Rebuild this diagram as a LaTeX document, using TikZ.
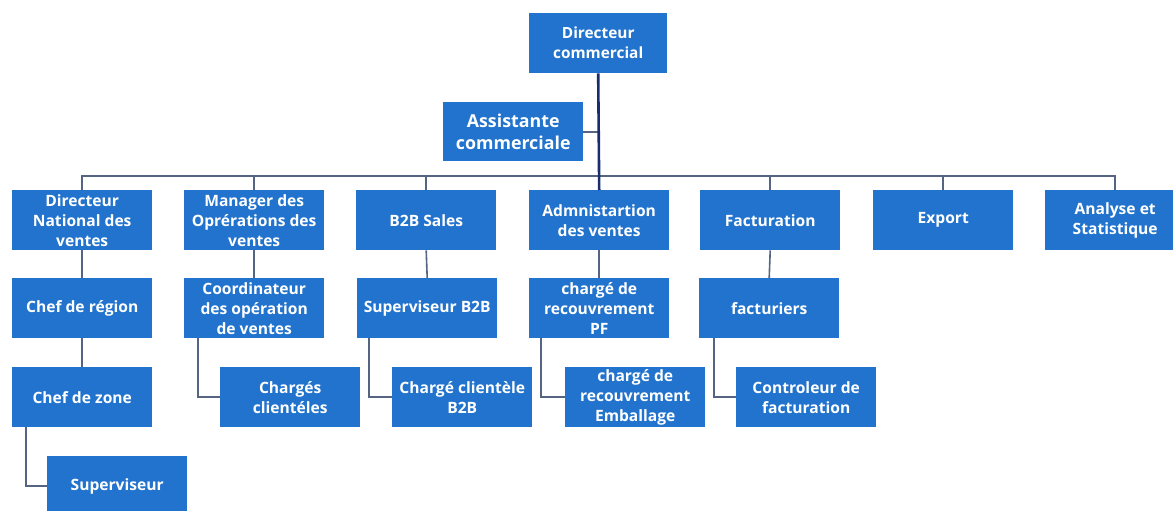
\documentclass[tikz,border=0pt]{standalone}
\usepackage{fontspec}
\setmainfont{Open Sans}
\definecolor{boxblue}{RGB}{33,115,205}
\definecolor{linegray}{RGB}{85,100,130}
\definecolor{navy}{RGB}{25,45,110}
\begin{document}
\begin{tikzpicture}[x=1pt,y=-1pt,
  box/.style={fill=boxblue, text=white, font=\bfseries\fontsize{15.6}{20}\selectfont,
    align=center, minimum width=140pt, minimum height=60pt, inner sep=0pt, anchor=north west},
  bigbox/.style={box, font=\bfseries\fontsize{17.8}{22}\selectfont},
  conn/.style={draw=linegray, line width=1.6pt},
  mainline/.style={draw=navy, line width=2.6pt}]
\useasboundingbox[fill=white] (0,0) rectangle (1173,511);

% top
\node[box, minimum width=138pt, font=\bfseries\fontsize{15.4}{20}\selectfont] (dc) at (529,13) {Directeur\\commercial};
\node[bigbox, minimum height=59pt] (as) at (443,102) {Assistante\\commerciale};

% level 1
\node[box] (dnv) at (12,190) {Directeur\\National des\\ventes};
\node[box] (mgr) at (184,190) {Manager des\\Oprérations des\\ventes};
\node[box] (b2b) at (356,190) {B2B Sales};
\node[box] (adm) at (529,190) {Admnistartion\\des ventes};
\node[box] (fac) at (700,190) {Facturation};
\node[box] (exp) at (873,190) {Export};
\node[box] (ana) at (1045,190) {Analyse et\\Statistique};

% level 2
\node[box] (chr) at (12,278) {Chef de région};
\node[box] (coo) at (184,278) {Coordinateur\\des opération\\de ventes};
\node[box] (sb2b) at (357,278) {Superviseur B2B};
\node[box] (cpf) at (529,278) {chargé de\\recouvrement\\PF};
\node[box] (fct) at (699,278) {facturiers};

% level 3
\node[box] (chz) at (12,367) {Chef de zone};
\node[box] (ccl) at (220,367) {Chargés\\clientéles};
\node[box] (cb2b) at (392,367) {Chargé clientèle\\B2B};
\node[box] (cemb) at (565,367) {chargé de\\recouvrement\\Emballage};
\node[box] (ctrl) at (736,367) {Controleur de\\facturation};

% level 4
\node[box] (sup) at (47,456) {Superviseur};

% connectors
\coordinate (bus) at (599,176);
\draw[conn] (dnv.north) |- (bus) -| (ana.north);
\foreach \n in {mgr,b2b,fac,exp} \draw[conn] (\n.north) -- (\n.north |- bus);
\draw[conn] (as.east) -- (as.east -| dc.south);
\draw[mainline] (dc.south) -- (adm.north);

\draw[conn] (dnv.south) -- (chr.north);
\draw[conn] (mgr.south) -- (coo.north);
\draw[conn] (b2b.south) -- (sb2b.north);
\draw[conn] (adm.south) -- (cpf.north);
\draw[conn] (fac.south) -- (fct.north);
\draw[conn] (chr.south) -- (chz.north);

\draw[conn] ([xshift=14pt]chz.south west) |- (sup.west);
\draw[conn] ([xshift=14pt]coo.south west) |- (ccl.west);
\draw[conn] ([xshift=12pt]sb2b.south west) |- (cb2b.west);
\draw[conn] ([xshift=12pt]cpf.south west) |- (cemb.west);
\draw[conn] ([xshift=15pt]fct.south west) |- (ctrl.west);
\end{tikzpicture}
\end{document}
